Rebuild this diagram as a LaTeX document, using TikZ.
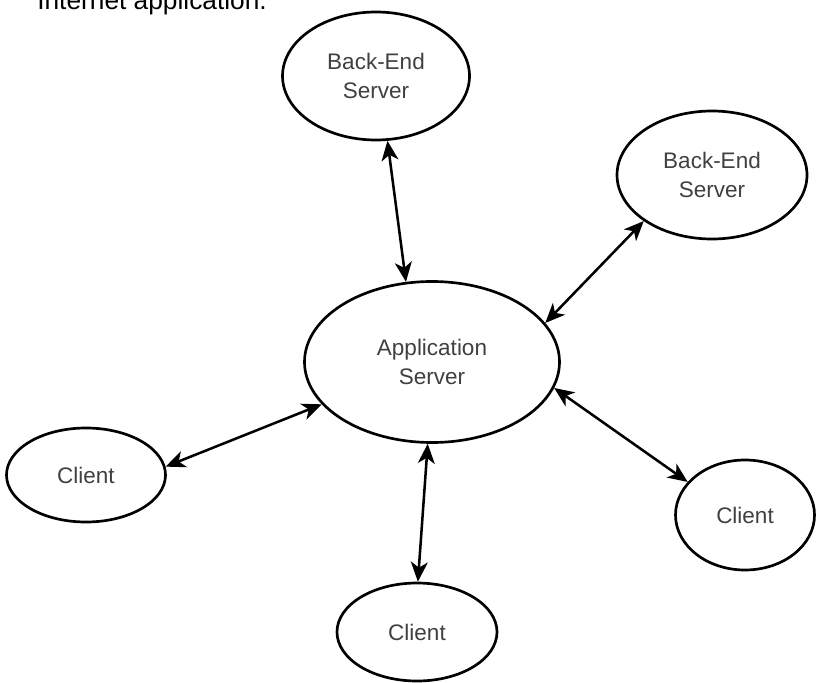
\documentclass[tikz,border=0pt]{standalone}
\usepackage{fontspec}
\setmainfont{Liberation Sans}
\usepackage{tikz}
\usetikzlibrary{arrows.meta,shapes.geometric}
\tikzset{
  blob/.style={ellipse, draw=black, line width=1.9pt, fill=white, inner sep=0pt,
    align=center, text=black!75, font=\fontsize{16}{20}\selectfont},
  link/.style={line width=1.8pt, {Stealth[length=14pt,width=12pt,inset=4pt]}-{Stealth[length=14pt,width=12pt,inset=4pt]}}
}
\begin{document}
\begin{tikzpicture}[x=0.025cm,y=-0.025cm]
        \useasboundingbox (0,0) rectangle (819,682);
        \clip (0,0) rectangle (819,682);

        % caption, cut at the top
        \node[anchor=base west, inner sep=0pt, font=\fontsize{18.7}{22}\selectfont] (cap) at (37,10) {Internet application.};

        % servers
        \node[blob, minimum width=187*0.025cm, minimum height=128*0.025cm] (be1) at (376,76) {Back-End\\Server};
        \node[blob, minimum width=190*0.025cm, minimum height=128*0.025cm] (be2) at (712,175) {Back-End\\Server};
        \node[blob, minimum width=255*0.025cm, minimum height=161*0.025cm] (app) at (432,362) {Application\\Server};

        % clients
        \node[blob, minimum width=159*0.025cm, minimum height=94*0.025cm] (c1) at (86,475) {Client};
        \node[blob, minimum width=160*0.025cm, minimum height=98*0.025cm] (c2) at (417,632) {Client};
        \node[blob, minimum width=139*0.025cm, minimum height=110*0.025cm] (c3) at (745,515) {Client};

        % links
        \draw[link] (be1.-80) -- (app.108);
        \draw[link] (be2.-146) -- (app.19);
        \draw[link] (c1.6) -- (app.-159);
        \draw[link] (app.-93) -- (c2.89);
        \draw[link] (app.-12) -- (c3.150);
      \end{tikzpicture}
\end{document}
